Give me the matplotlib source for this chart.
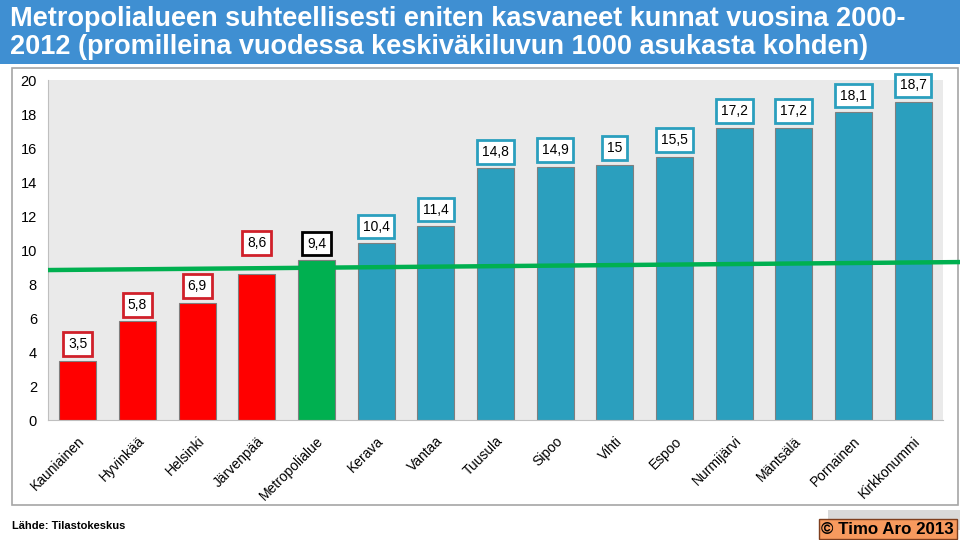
import matplotlib.pyplot as plt
from matplotlib.patches import Rectangle

# data
kunnat = ["Kauniainen", "Hyvinkää", "Helsinki", "Järvenpää", "Metropolialue",
          "Kerava", "Vantaa", "Tuusula", "Sipoo", "Vihti", "Espoo",
          "Nurmijärvi", "Mäntsälä", "Pornainen", "Kirkkonummi"]
arvot = [3.5, 5.8, 6.9, 8.6, 9.4, 10.4, 11.4, 14.8, 14.9, 15.0, 15.5,
         17.2, 17.2, 18.1, 18.7]
ryhma = ["alle", "alle", "alle", "alle", "keski", "yli", "yli", "yli", "yli",
         "yli", "yli", "yli", "yli", "yli", "yli"]
trendi = [8.82, 9.29]   # green line, left end / right end

vari = {"alle": "#FF0000", "keski": "#00B050", "yli": "#2B9FBE"}
reuna = {"alle": "#D0202A", "keski": "#000000", "yli": "#2B9FBE"}

plt.rcParams['font.family'] = ['Liberation Sans', 'DejaVu Sans']

fig = plt.figure(figsize=(9.6, 5.4), dpi=100)
fig.patch.set_facecolor("white")

# title banner
fig.patches.append(Rectangle((0, 1 - 64/540), 1, 64/540, transform=fig.transFigure,
                             facecolor="#3F8FD2", edgecolor="none", zorder=0))
fig.text(10/960, 1 - 6/540,
         "Metropolialueen suhteellisesti eniten kasvaneet kunnat vuosina 2000-\n"
         "2012 (promilleina vuodessa keskiväkiluvun 1000 asukasta kohden)",
         fontsize=19.5, fontweight="bold", color="white", va="top",
         ha="left", linespacing=1.08)

# white panel with gray frame
fig.patches.append(Rectangle((12/960, 1 - 505/540), 946/960, 437/540,
                             transform=fig.transFigure, facecolor="white",
                             edgecolor="#A6A6A6", lw=1.2, zorder=0))

ax = fig.add_axes([48/960, 120/540, 895/960, 340/540])
ax.set_zorder(2)
ax.set_facecolor("#EAEAEA")
x = list(range(len(kunnat)))
bars = ax.bar(x, arvot, width=0.62,
              color=[vari[r] for r in ryhma], edgecolor="#7F7F7F", lw=0.8, zorder=2)

ax.set_xlim(-0.5, len(kunnat) - 0.5)
ax.set_ylim(0, 20)
ax.set_yticks(range(0, 21, 2))
ax.tick_params(axis="y", length=0, pad=8, labelsize=10.5)
ax.tick_params(axis="x", length=0, pad=10)
ax.set_xticks(x)
ax.set_xticklabels(kunnat, rotation=45, ha="right", rotation_mode="anchor",
                   fontsize=10)
for s in ["top", "right"]:
    ax.spines[s].set_visible(False)
ax.spines["left"].set_color("#BFBFBF")
ax.spines["bottom"].set_color("#BFBFBF")

# value labels
lisa = {3: 22}   # Järvenpää label raised above the line
for i, (v, r) in enumerate(zip(arvot, ryhma)):
    teksti = f"{v:g}".replace(".", ",")
    ax.annotate(teksti, (i, v), xytext=(0, lisa.get(i, 12)), textcoords="offset points",
                ha="center", va="center", fontsize=10, zorder=5,
                bbox=dict(boxstyle="square,pad=0.35", fc="white",
                          ec=reuna[r], lw=2))

# trend line running out to figure edge
x_end = -0.5 + (960 - 48) / (895 / len(kunnat))
ax.plot([-0.5, x_end], trendi, color="#00B050", lw=3.2, clip_on=False, zorder=4,
        solid_capstyle="butt")

fig.text(12/960, 1 - 526/540, "Lähde: Tilastokeskus", fontsize=8,
         fontweight="bold", va="center", ha="left")

# copyright box
fig.patches.append(Rectangle((828/960, 1 - 530/540), 132/960, 20/540,
                             transform=fig.transFigure, facecolor="#D9D9D9",
                             edgecolor="none", zorder=1))
fig.text(954/960, 1 - 529/540, "© Timo Aro 2013", fontsize=12.2,
         fontweight="bold", va="center", ha="right", zorder=3,
         bbox=dict(boxstyle="square,pad=0.15", fc="#F79A5E", ec="#7F3F1F", lw=1))

fig.savefig("out.png", dpi=100)
